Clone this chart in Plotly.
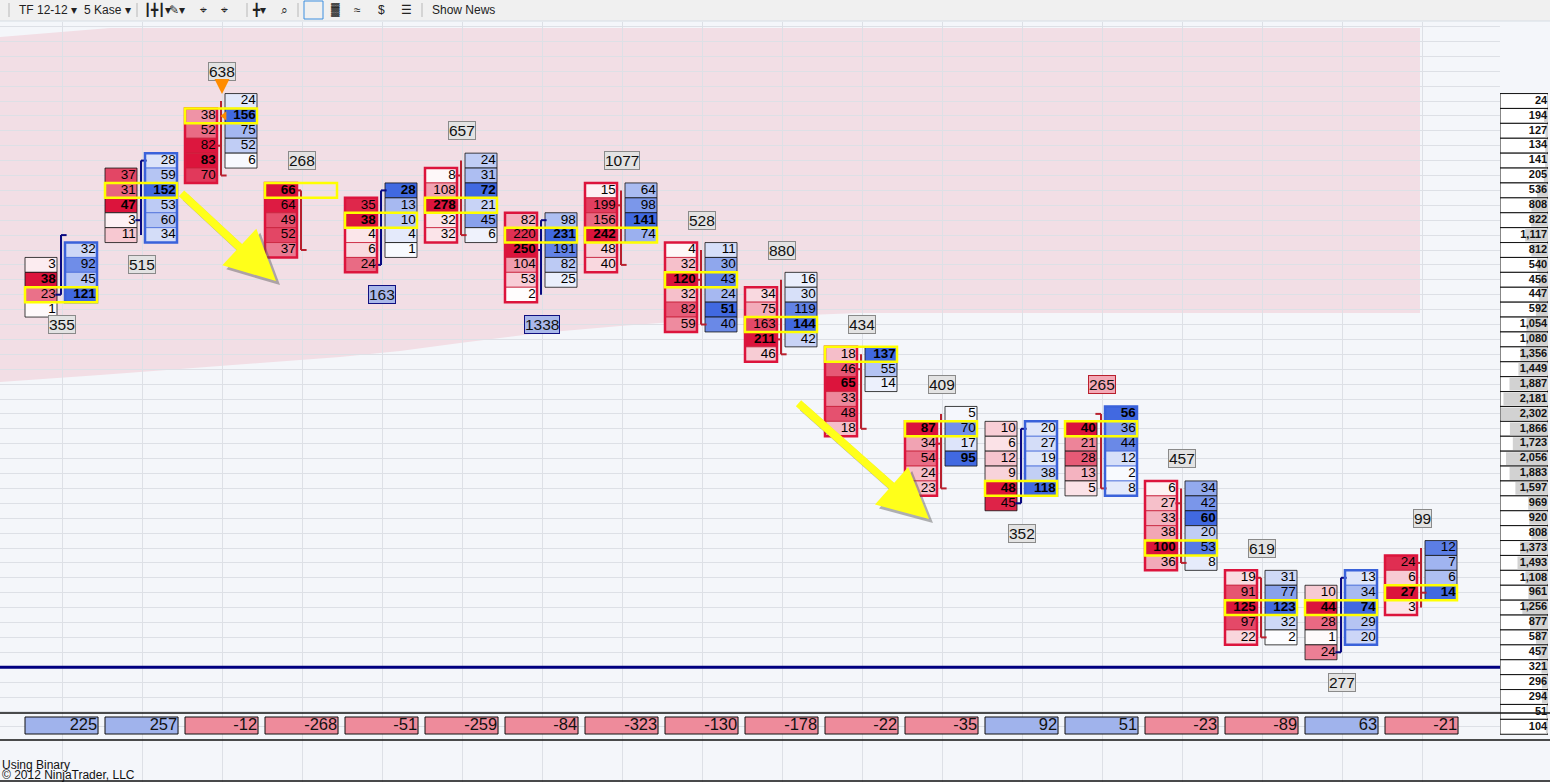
import plotly.graph_objects as go

W, H = 1550, 782

# footprint bars: bid (sell) column and ask (buy) column, rows counted down from the top price
bid_top = [11, 5, 1, 6, 7, 5, 8, 6, 10, 13, 17, 22, 22, 22, 26, 32, 33, 31]
bid_vol = [[3, 38, 23, 1], [37, 31, 47, 3, 11], [38, 52, 82, 83, 70], [66, 64, 49, 52, 37],
           [35, 38, 4, 6, 24], [8, 108, 278, 32, 32], [82, 220, 250, 104, 53, 2],
           [15, 199, 156, 242, 48, 40], [4, 32, 120, 32, 82, 59], [34, 75, 163, 211, 46],
           [18, 46, 65, 33, 48, 18], [87, 34, 54, 24, 23], [10, 6, 12, 9, 48, 45],
           [40, 21, 28, 13, 5], [6, 27, 33, 38, 100, 36], [19, 91, 125, 97, 22],
           [10, 44, 28, 1, 24], [24, 6, 27, 3]]
ask_top = [10, 4, 0, 6, 6, 4, 8, 6, 10, 12, 17, 21, 22, 21, 26, 32, 32, 30]
ask_vol = [[32, 92, 45, 121], [28, 59, 152, 53, 60, 34], [24, 156, 75, 52, 6], [],
           [28, 13, 10, 4, 1], [24, 31, 72, 21, 45, 6], [98, 231, 191, 82, 25],
           [64, 98, 141, 74], [11, 30, 43, 24, 51, 40], [16, 30, 119, 144, 42],
           [137, 55, 14], [5, 70, 17, 95], [20, 27, 19, 38, 118], [56, 36, 44, 12, 2, 8],
           [34, 42, 60, 20, 53, 8], [31, 77, 123, 32, 2], [13, 34, 74, 29, 20], [12, 7, 6, 14]]
poc_row = [13, 6, 1, 6, 8, 7, 9, 9, 12, 15, 17, 22, 26, 22, 30, 34, 34, 33]
bar_high = [9, 4, 0, 6, 6, 4, 8, 6, 10, 12, 17, 21, 22, 21, 26, 32, 32, 30]
bar_low = [13, 9, 5, 10, 11, 9, 13, 11, 15, 17, 22, 26, 27, 26, 31, 36, 37, 34]
bar_open = [13, 8, 3, 6, 11, 5, 10, 7, 12, 16, 18, 23, 27, 21, 27, 32, 37, 31]
bar_close = [9, 4, 5, 10, 6, 9, 8, 11, 15, 17, 22, 26, 22, 26, 31, 36, 32, 33]
bar_delta = [225, 257, -12, -268, -51, -259, -84, -323, -130, -178, -22, -35, 92, 51, -23, -89, 63, -21]
bar_label = [355, 515, 638, 268, 163, 657, 1338, 1077, 528, 880, 434, 409, 352, 265, 457, 619, 277, 99]
label_row = [15, 11, -2, 4, 13, 2, 15, 4, 8, 10, 15, 19, 29, 19, 24, 30, 39, 28]
label_kind = ["n", "n", "n", "n", "buy", "n", "buy", "n", "n", "n", "n", "n", "n", "sell", "n", "n", "n", "n"]

# session volume profile shown in the right-hand column
profile_vol = [24, 194, 127, 134, 141, 205, 536, 808, 822, 1117, 812, 540, 456, 447, 592, 1054,
               1080, 1356, 1449, 1887, 2181, 2302, 1866, 1723, 2056, 1883, 1597, 969, 920, 808,
               1373, 1493, 1108, 961, 1256, 877, 587, 457, 321, 296, 294, 51, 104]
last_row = 38

FONT = "Liberation Sans, Arial, sans-serif"
RED = (220, 20, 60)
BLUE = (65, 105, 225)
NAVY = "#0A0A80"
DKRED = "#B8202E"
BG = "#F4F6FA"

ROW0, ROWH = 101, 14.9     # pixel centre of row 0 and row height
X0, XW = 62, 80            # pixel centre of bar 0 and bar spacing
PLOT_TOP, PANEL_X = 22, 1500


def px_x(p):
    return (p - X0) / XW


def px_r(p):
    return (p - ROW0) / ROWH


def py(p):
    return 1 - p / H


def shade(v, vmax, full):
    f = v / vmax if vmax else 0
    return "rgb(%d,%d,%d)" % tuple(round(255 - (255 - c) * f) for c in full)


fig = go.Figure()
shapes = []
annots = []

# ---- pink value-area band
pts = [(0, 37), (110, 28), (1420, 28), (1420, 313), (860, 313), (780, 316), (700, 320),
       (620, 326), (540, 333), (460, 343), (400, 351), (340, 357), (260, 363), (180, 369),
       (100, 375), (0, 382)]
path = "M " + " L ".join("%.5f,%.5f" % (x / W, py(y)) for x, y in pts) + " Z"
shapes.append(dict(type="path", path=path, xref="paper", yref="paper", fillcolor="#F2DEE5",
                   line=dict(width=0), layer="below"))

# ---- cells
for i in range(len(bid_vol)):
    for side, top, vals, full, off in (("bid", bid_top[i], bid_vol[i], RED, -0.2625),
                                        ("ask", ask_top[i], ask_vol[i], BLUE, 0.2375)):
        if not vals:
            continue
        vmax = max(vals)
        rows = [top + k for k in range(len(vals))]
        outlined = (side == "bid" and bar_delta[i] < 0) or (side == "ask" and bar_delta[i] > 0)
        lc = ("#C8203A" if side == "bid" else "#4A6EDC") if outlined else "#111111"
        fig.add_trace(go.Bar(
            x=[i + off] * len(vals), y=[1] * len(vals), base=[r - 0.5 for r in rows],
            width=0.4, marker=dict(color=[shade(v, vmax, full) for v in vals],
                                   line=dict(color=lc, width=0.8)),
            hoverinfo="skip", showlegend=False))
        fig.add_trace(go.Scatter(
            x=[i + off + 0.185] * len(vals), y=rows, mode="text",
            text=["<b>%d</b>" % v if v == vmax else str(v) for v in vals],
            textposition="middle left", textfont=dict(family=FONT, size=13.5, color="black"),
            hoverinfo="skip", showlegend=False))
        if outlined:
            shapes.append(dict(type="rect", xref="x", yref="y",
                               x0=i + off - 0.2, x1=i + off + 0.2,
                               y0=top - 0.5, y1=top + len(vals) - 0.5,
                               line=dict(color="#DC143C" if side == "bid" else "#3A62DA", width=2.5)))
    # point of control
    shapes.append(dict(type="rect", xref="x", yref="y", x0=i - 0.4625, x1=i + 0.4375,
                       y0=poc_row[i] - 0.5, y1=poc_row[i] + 0.5,
                       line=dict(color="#FFFF00", width=2.5)))

# ---- price wicks (OHLC style)
for col, up in ((NAVY, True), (DKRED, False)):
    xs, ys = [], []
    for i in range(len(bar_high)):
        if (bar_close[i] < bar_open[i]) != up:
            continue
        xc = i - 0.0125
        xs += [xc, xc, None, xc - 0.07, xc, None, xc, xc + 0.07, None]
        ys += [bar_high[i], bar_low[i], None, bar_open[i], bar_open[i], None,
               bar_close[i], bar_close[i], None]
    fig.add_trace(go.Scatter(x=xs, y=ys, mode="lines", line=dict(color=col, width=2),
                             hoverinfo="skip", showlegend=False))

# ---- bar labels
for i, (lab, r, kind) in enumerate(zip(bar_label, label_row, label_kind)):
    bg, bd = {"n": ("#E3E3E3", "#8A8A8A"), "buy": ("#A9B8EA", "#101080"),
              "sell": ("#F3A9B6", "#B8202E")}[kind]
    annots.append(dict(x=i, y=r, xref="x", yref="y", text=str(lab), showarrow=False,
                       font=dict(family=FONT, size=15.5, color="#111"), bgcolor=bg,
                       bordercolor=bd, borderwidth=1, borderpad=0))

# ---- last price line
shapes.append(dict(type="line", xref="x domain", yref="y", x0=0, x1=1, y0=last_row, y1=last_row,
                   line=dict(color="#000080", width=3)))

# ---- delta row
d_r0, d_r1 = px_r(717), px_r(734)
fig.add_trace(go.Bar(
    x=[i - 0.006 for i in range(len(bar_delta))], y=[d_r1 - d_r0] * len(bar_delta),
    base=[d_r0] * len(bar_delta), width=0.913,
    marker=dict(color=["#A0B3EC" if d > 0 else "#EE8B9B" for d in bar_delta],
                line=dict(color="#111", width=1)),
    hoverinfo="skip", showlegend=False))
fig.add_trace(go.Scatter(
    x=[i + 0.44 for i in range(len(bar_delta))], y=[(d_r0 + d_r1) / 2] * len(bar_delta),
    mode="text", text=[str(d) for d in bar_delta], textposition="middle left",
    textfont=dict(family=FONT, size=16.5, color="#111"), hoverinfo="skip", showlegend=False))
for yy in (713, 740, 781):
    shapes.append(dict(type="line", xref="paper", yref="paper", x0=0, x1=1, y0=py(yy), y1=py(yy),
                       line=dict(color="#111", width=1.5)))

# ---- right-hand volume profile
pmax = 2351
prow = list(range(len(profile_vol)))
fig.add_trace(go.Bar(x=[pmax] * len(prow), y=prow, orientation="h", width=1, xaxis="x2", yaxis="y2",
                     marker=dict(color="white", line=dict(color="#111", width=1)),
                     hoverinfo="skip", showlegend=False))
fig.add_trace(go.Bar(x=profile_vol, y=prow, orientation="h", width=0.86, xaxis="x2", yaxis="y2",
                     marker=dict(color="#D2D2D2", line=dict(width=0)),
                     hoverinfo="skip", showlegend=False))
fig.add_trace(go.Scatter(x=[40] * len(prow), y=prow, mode="text", xaxis="x2", yaxis="y2",
                         text=["<b>{:,}</b>".format(v) for v in profile_vol],
                         textposition="middle left",
                         textfont=dict(family=FONT, size=11, color="#111"),
                         hoverinfo="skip", showlegend=False))

# ---- yellow trend arrows with shadow
for (tx, ty), (hx, hy) in (((180, 192), (276, 281)), ((797, 402), (929, 519))):
    for dx, col in ((4, "rgba(90,90,90,0.45)"), (0, "#FFFF1A")):
        annots.append(dict(x=px_x(hx + dx), y=px_r(hy + dx), ax=px_x(tx + dx), ay=px_r(ty + dx),
                           xref="x", yref="y", axref="x", ayref="y", text="", showarrow=True,
                           arrowhead=2, arrowsize=1.25, arrowwidth=8, arrowcolor=col))

# ---- orange marker at bar 3
annots.append(dict(x=2, y=px_r(94), xref="x", yref="y", ax=0, ay=-14, text="", showarrow=True,
                   arrowhead=2, arrowsize=1, arrowwidth=3, arrowcolor="#FF8C00"))
fig.add_trace(go.Scatter(x=[2.03], y=[1], mode="markers",
                         marker=dict(symbol="triangle-left", size=8, color="#FF8C00"),
                         hoverinfo="skip", showlegend=False))

# ---- toolbar
shapes.append(dict(type="rect", xref="paper", yref="paper", x0=0, x1=1, y0=py(21), y1=1,
                   fillcolor="#F0F0F0", line=dict(width=0)))
shapes.append(dict(type="line", xref="paper", yref="paper", x0=0, x1=1, y0=py(21), y1=py(21),
                   line=dict(color="#D6DDE4", width=1)))
shapes.append(dict(type="rect", xref="paper", yref="paper", x0=304 / W, x1=323 / W,
                   y0=py(19), y1=py(1), line=dict(color="#3C8FE0", width=1)))
for sx in (9, 137, 247, 298, 422):
    shapes.append(dict(type="line", xref="paper", yref="paper", x0=sx / W, x1=sx / W,
                       y0=py(17), y1=py(3), line=dict(color="#B8B8B8", width=1)))
tool_items = [(17, "TF 12-12 \u25be"), (82, "5 Kase \u25be"), (142, "\u2503\u254b\u2503\u25be"),
              (167, "\u270e\u25be"), (198, "\u2316"), (219, "\u2316"), (250, "\u254b\u25be"),
              (279, "\u2315"), (329, "\u2593"), (352, "\u2248"), (376, "$"), (399, "\u2630"),
              (430, "Show News")]
for tx, tt in tool_items:
    annots.append(dict(x=tx / W, y=py(9.5), xref="paper", yref="paper", text=tt, showarrow=False,
                       xanchor="left", yanchor="middle",
                       font=dict(family=FONT, size=12, color="#222")))

# ---- footer text (overlapping in the original too)
annots.append(dict(x=0, y=py(765), xref="paper", yref="paper", text="Using Binary",
                   showarrow=False, xanchor="left", yanchor="middle",
                   font=dict(family=FONT, size=12, color="#111")))
annots.append(dict(x=0, y=py(775), xref="paper", yref="paper", text="\u00a9 2012 NinjaTrader, LLC",
                   showarrow=False, xanchor="left", yanchor="middle",
                   font=dict(family=FONT, size=12, color="#111")))

r_top, r_bot = px_r(PLOT_TOP), px_r(H)
fig.update_layout(
    width=W, height=H, margin=dict(l=0, r=0, t=0, b=0),
    paper_bgcolor=BG, plot_bgcolor=BG, barmode="overlay", showlegend=False,
    shapes=shapes, annotations=annots,
    xaxis=dict(domain=[0, PANEL_X / W], range=[px_x(0), px_x(PANEL_X)], tickvals=list(range(18)),
               showgrid=True, gridcolor="#DDE0E6", gridwidth=1, showticklabels=False,
               zeroline=False, ticks="", fixedrange=True),
    yaxis=dict(domain=[0, py(PLOT_TOP)], range=[r_bot, r_top], tickvals=list(range(-5, 43)),
               showgrid=True, gridcolor="#DDE0E6", gridwidth=1, showticklabels=False,
               zeroline=False, ticks="", fixedrange=True),
    xaxis2=dict(domain=[PANEL_X / W, 1548 / W], range=[pmax, 0], anchor="y2", visible=False,
                fixedrange=True),
    yaxis2=dict(domain=[0, py(PLOT_TOP)], range=[r_bot, r_top], anchor="x2", visible=False,
                fixedrange=True),
)

fig.write_html("out.html", config={"displayModeBar": False},
               post_script="document.body.style.margin='0';document.body.style.overflow='hidden';")
